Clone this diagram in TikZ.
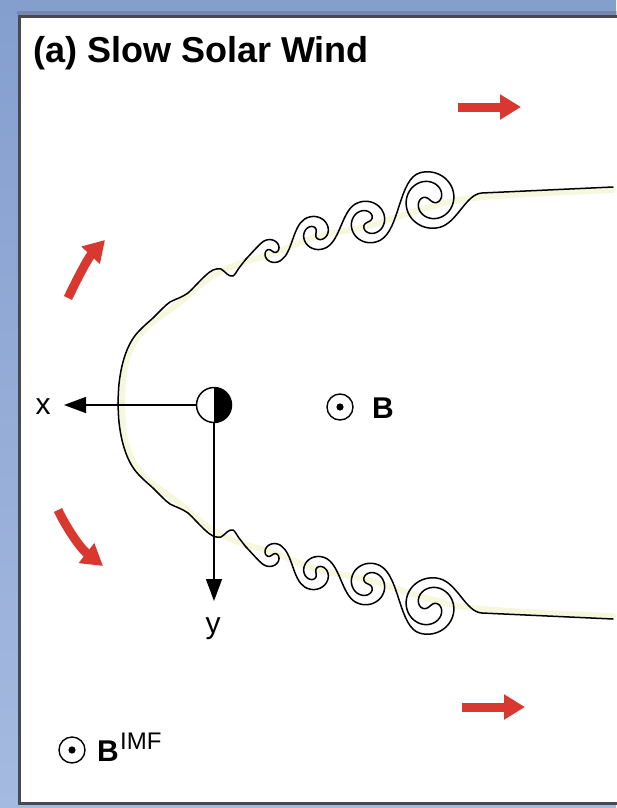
\documentclass[tikz,border=0pt]{standalone}
\usepackage{fontspec}
\setmainfont{Liberation Sans}
\usetikzlibrary{arrows.meta}

\definecolor{framebluetop}{RGB}{132,158,206}
\definecolor{framebluebot}{RGB}{165,186,224}
\definecolor{frameedge}{RGB}{72,74,80}
\definecolor{flowred}{RGB}{216,56,48}
\definecolor{glow}{RGB}{232,236,160}

% One rolled-up Kelvin-Helmholtz vortex: a double (Fermat) spiral.
% #1 name, #2 #3 centre, #4 outer radius, #5 winding angle per arm, #6 end angle
\newcommand\khvortex[6]{%
  \draw[interface] plot[domain=-1:1, samples=220, variable=\t]
    ({#2+#4*\t*cos(#6-(#5)+(#5)*\t*\t)}, {#3+#4*\t*sin(#6-(#5)+(#5)*\t*\t)});
  \coordinate (#1in) at ({#2-#4*cos(#6)}, {#3-#4*sin(#6)});
  \coordinate (#1out) at ({#2+#4*cos(#6)}, {#3+#4*sin(#6)});
}

% One flank of the magnetopause, from the nose to the tail
\newcommand\khflank{%
  \draw[glowline] plot[smooth, tension=0.6] coordinates {(122,403) (124,372) (132,346) (148,326)
    (179,303) (211,277) (241,263) (272,254) (316,237) (368,226) (430,207) (482,197) (613,190)};
  \draw[interface] plot[smooth, tension=0.6] coordinates {(118,403) (119,384) (122,366)
    (127,350) (134,337) (143,327) (153,318) (162,309) (170,302) (179,298) (188,293)
    (196,285) (205,276) (213,270) (221,269) (227,274) (233,276) (239,268) (246,259)};
  \coordinate (hook) at (246,259);
  \khvortex{va}{272}{251}{13}{-170}{45}
  \khvortex{vb}{316}{233}{18}{-230}{50}
  \khvortex{vc}{368}{222}{22}{-280}{55}
  \khvortex{vd}{430}{200}{29}{-330}{70}
  \coordinate (tailbend) at (482,193);
  \coordinate (tailend) at (613,187);
  \draw[interface] (hook) .. controls +(-45:6) and +(144.6:5) .. (vain);
  \draw[interface] (vaout) .. controls +(-35.4:14) and +(147.1:14) .. (vbin);
  \draw[interface] (vbout) .. controls +(-32.9:15) and +(150.8:15) .. (vcin);
  \draw[interface] (vcout) .. controls +(-29.2:22) and +(165:22) .. (vdin);
  \draw[interface] (vdout) .. controls +(-15:18) and +(177.4:16) .. (tailbend) -- (tailend);
}

\begin{document}
\begin{tikzpicture}[x=1pt, y=-1pt,
  interface/.style={line width=1.5pt, black, line cap=round, line join=round},
  glowline/.style={line width=6pt, glow, opacity=0.35, line cap=round},
  axisline/.style={line width=1.4pt, -{Triangle[length=22pt,width=16pt]}},
  flowarrow/.style={flowred, line width=9pt, -{Triangle[length=21pt,width=24pt]}},
  axislabel/.style={inner sep=0pt, font=\fontsize{30}{30}\selectfont},
  fieldlabel/.style={inner sep=0pt, font=\fontsize{30}{30}\selectfont\bfseries},
  dotcircle/.style={draw, circle, line width=1.4pt, minimum size=26pt, inner sep=0pt}]

\useasboundingbox (0,0) rectangle (616,808);

% window frame and white panel
\shade[top color=framebluetop, bottom color=framebluebot] (0,0) rectangle (616,808);
\fill[frameedge, opacity=0.25] (17,11) rectangle (620,15);
\fill[white] (21,18) rectangle (620,802);
\draw[frameedge, line width=3pt] (19.5,803.5) -- (19.5,16.5) -- (620,16.5);
\draw[frameedge, line width=3pt] (18,803.5) -- (620,803.5);

% title
\node[anchor=base west, inner sep=0pt, font=\fontsize{36}{36}\selectfont\bfseries]
  (title) at (33,63) {(a) Slow Solar Wind};

% magnetopause flanks with vortices (the lower one mirrored)
\khflank
\begin{scope}[shift={(0,806)}, yscale=-1]
  \khflank
\end{scope}

% planet and axes
\node[draw, circle, line width=1.5pt, minimum size=35pt, inner sep=0pt] (earth) at (214,405) {};
\fill (214,387.5) arc[start angle=90, end angle=-90, radius=17.5pt] -- cycle;
\coordinate (xtip) at (64,405);
\coordinate (ytip) at (214,601);
\draw[axisline] (earth.west) -- (xtip);
\draw[axisline] (earth.south) -- (ytip);
\node[axislabel, anchor=base] (xlab) at (43,414) {x};
\node[axislabel, anchor=base] (ylab) at (213,633) {y};

% magnetic field out of the plane
\node[dotcircle] (bdot) at (340,407) {};
\fill (bdot.center) circle[radius=3.6pt];
\node[fieldlabel, anchor=base west] (blab) at (372,418) {B};

\node[dotcircle] (imfdot) at (72,750) {};
\fill (imfdot.center) circle[radius=3.6pt];
\node[fieldlabel, anchor=base west] (imfb) at (97,761) {B};
\node[inner sep=0pt, anchor=base west, font=\fontsize{24}{24}\selectfont] (imfsup) at (120,749) {IMF};

% solar wind flow
\coordinate (fa1) at (458,107);  \coordinate (fa2) at (521,107);
\coordinate (fb1) at (462,707);  \coordinate (fb2) at (525,707);
\coordinate (fc1) at (68,298);   \coordinate (fc2) at (105,240);
\coordinate (fd1) at (58,510);   \coordinate (fd2) at (103,566);
\draw[flowarrow] (fc1) .. controls (76,281) and (88,258) .. (fc2);
\draw[flowarrow] (fd1) .. controls (66,527) and (80,548) .. (fd2);
\draw[flowarrow] (fa1) -- (fa2);
\draw[flowarrow] (fb1) -- (fb2);

\end{tikzpicture}
\end{document}
